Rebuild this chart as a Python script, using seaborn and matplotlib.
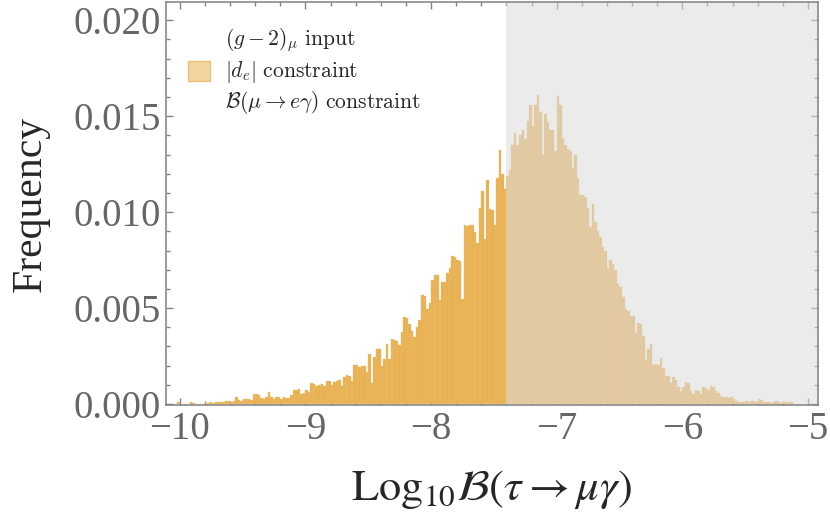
import numpy as np
import pandas as pd
import matplotlib
matplotlib.use("Agg")
import matplotlib.pyplot as plt
import matplotlib.patches as mpatches
from matplotlib.ticker import MultipleLocator, FormatStrFormatter
import seaborn as sns

# Histogram of Log10 B(tau -> mu gamma), bins of width 0.02 starting at -10.12
bin_start = -10.12
bin_width = 0.02
cut = -7.4   # right of this the region is shaded (excluded)

# bin heights in units of 1e-4 (10 bins per row)
freq_e4 = [
    0, 0, 0, 0, 0, 1.0, 0, 0, 0, 0,
    1.0, 0.8, 0, 0, 0, 0, 0.8, 0.7, 0.9, 0.8,
    1.0, 0.9, 1.2, 1.0, 1.4, 1.6, 1.2, 1.5, 3.7, 2.3,
    1.6, 2.4, 2.6, 2.8, 2.2, 5.0, 5.2, 4.5, 3.2, 2.4,
    3.5, 6.3, 3.8, 2.6, 3.7, 3.9, 2.8, 3.8, 3.0, 3.3,
    4.5, 7.3, 7.6, 8.1, 5.2, 5.6, 7.3, 6.3, 10.8, 10.5,
    9.6, 10.1, 10.3, 9.6, 12.2, 12.0, 10.1, 11.3, 12.2, 12.4,
    9.6, 14.3, 15.1, 14.8, 12.2, 20.5, 20.3, 19.2, 20.1, 19.8,
    16.6, 26.2, 10.8, 24.4, 28.8, 28.5, 20.1, 23.6, 31.4, 23.6,
    34.0, 33.5, 33.0, 31.0, 37.5, 45.3, 45.0, 41.8, 38.3, 35.2,
    40.1, 43.6, 56.7, 56.5, 49.7, 52.4, 64.6, 67.2, 67.0, 54.1,
    63.7, 63.5, 68.1, 70.7, 77.1, 76.8, 75.0, 74.7, 55.0, 93.3,
    93.0, 93.3, 93.1, 89.8, 83.9, 102.2, 110.8, 86.1, 116.9, 101.7,
    101.3, 93.3, 118.0, 132.3, 120.0, 111.8, 118.6, 122.0, 135.0, 141.0,
    135.0, 140.0, 143.0, 138.0, 147.5, 156.0, 145.0, 156.0, 161.0, 152.0,
    130.0, 151.0, 147.0, 143.0, 143.0, 131.7, 160.5, 156.0, 138.7, 135.0,
    133.0, 132.0, 123.0, 130.0, 117.8, 109.0, 109.0, 108.0, 102.0, 92.5,
    104.0, 95.0, 90.0, 87.0, 82.0, 80.0, 70.7, 75.0, 73.0, 69.8,
    62.5, 61.0, 55.9, 49.4, 48.5, 46.0, 45.9, 37.2, 42.4, 41.6,
    35.4, 23.2, 28.5, 31.1, 20.6, 21.0, 20.6, 24.1, 19.0, 14.5,
    14.8, 11.0, 14.0, 12.5, 8.7, 7.0, 8.7, 11.3, 11.0, 6.6,
    5.2, 7.5, 7.0, 5.2, 8.7, 8.5, 7.5, 9.6, 8.7, 7.0,
    6.0, 4.4, 3.5, 3.6, 3.4, 3.5, 2.6, 1.5, 0.9, 0.9,
    0.9, 1.4, 1.3, 1.4, 1.5, 1.0, 2.6, 2.0, 0.9, 0.9,
    0.9, 0.8, 0.9, 1.7, 0.9, 0.8, 0.9, 0.9, 0.8, 0.9,
]

legend_lines = [
    r"$(g-2)_\mu\ \mathrm{input}$",
    r"$|d_e|\ \mathrm{constraint}$",
    r"$\mathcal{B}(\mu\rightarrow e\gamma)\ \mathrm{constraint}$",
]

edges = bin_start + bin_width * np.arange(len(freq_e4) + 1)
df = pd.DataFrame({"center": edges[:-1] + bin_width / 2,
                   "freq": np.array(freq_e4) * 1e-4})
df_left = df[df["center"] < cut]
df_right = df[df["center"] >= cut]
bins_left = [float(e) for e in edges if e <= cut + 1e-9]
bins_right = [float(e) for e in edges if e >= cut - 1e-9]

sns.set_style("ticks")
plt.rcParams["font.family"] = "serif"
plt.rcParams["font.serif"] = ["Liberation Serif", "DejaVu Serif"]
plt.rcParams["mathtext.fontset"] = "stix"

bar_color = "#e8b04f"
bar_edge = "#eec27a"
grey = "#808080"

fig = plt.figure(figsize=(8.3, 5.24), dpi=100)
ax = fig.add_axes([0.2, 0.227, 0.7855, 0.769])

sns.histplot(data=df_left, x="center", weights="freq", bins=bins_left,
             color=bar_color, edgecolor=bar_edge, linewidth=0.25, alpha=1, ax=ax)
sns.histplot(data=df_right, x="center", weights="freq", bins=bins_right,
             color=bar_color, edgecolor=bar_edge, linewidth=0.25, alpha=1, ax=ax)

ax.set_xlim(-10.11, -4.92)
ax.set_ylim(-0.00005, 0.02094)

# excluded region shaded on top of the bars
ax.axvspan(cut, -4.92, color="#dcdcdc", alpha=0.565, lw=0, zorder=2)

ax.xaxis.set_major_locator(MultipleLocator(1))
ax.xaxis.set_minor_locator(MultipleLocator(0.2))
ax.yaxis.set_major_locator(MultipleLocator(0.005))
ax.yaxis.set_minor_locator(MultipleLocator(0.001))
ax.yaxis.set_major_formatter(FormatStrFormatter("%.3f"))

ax.tick_params(which="both", direction="in", top=True, right=True, color=grey,
               width=1.0, labelcolor="#666666", labelsize=28)
ax.tick_params(which="major", length=5, pad=4)
ax.tick_params(which="minor", length=3)
for sp in ax.spines.values():
    sp.set_visible(True)
    sp.set_color(grey)
    sp.set_linewidth(1.1)

ax.set_xlabel(r"$\mathrm{Log}_{10}\mathcal{B}(\tau \rightarrow \mu\gamma)$", fontsize=32, labelpad=15)
ax.set_ylabel("Frequency", fontsize=30, labelpad=17)

handle = mpatches.Patch(facecolor="#f3d59f", edgecolor="#ecbf78", lw=1)
leg = ax.legend([handle], ["\n".join(legend_lines)], loc="upper left",
                bbox_to_anchor=(0.034, 0.94), frameon=False, fontsize=15.5,
                handlelength=1.0, handleheight=1.0, handletextpad=0.7,
                borderpad=0, borderaxespad=0)
for t in leg.get_texts():
    t.set_math_fontfamily("cm")
    t.set_linespacing(1.25)

fig.savefig("out.png", dpi=100)
